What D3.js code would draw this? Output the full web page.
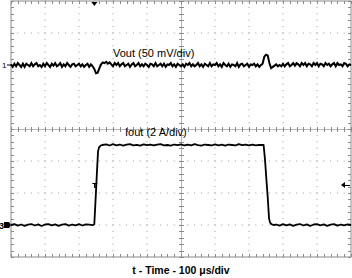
<!DOCTYPE html>
<html>
<head>
<meta charset="utf-8">
<script src="https://cdn.jsdelivr.net/npm/d3@7"></script>
<style>
  html, body { margin: 0; padding: 0; background: #fff; }
  svg { display: block; font-family: "Liberation Sans", Arial, sans-serif; }
</style>
</head>
<body>
<svg width="352" height="278"></svg>
<script>
'use strict';

// scope settings
const timePerDiv = 100;      // us
const voutPerDiv = 50;       // mV
const ioutPerDiv = 2;        // A
const voutRefDiv = 6;        // channel 1 marker, divisions from bottom
const ioutGndDiv = 1;        // channel 3 ground marker

// Vout deviation (mV), one sample every 5 us
const voutStep = 5;
const voutMv = [
	1,-3,2,-2,3,0,-3,2,-3,2,0,-2,3,-2,1,3,-2,0,-3,2,
	-2,3,0,-3,2,-1,3,-2,0,3,-3,1,-2,3,0,-3,1,2,-2,0,
	2,-2,1,-3,0,2,-3,1,-2,-6,-13,-12,-5,1,4,3,5,2,4,1,
	-2,3,0,3,-2,1,3,-2,0,2,-3,1,3,-2,0,3,-2,1,-2,2,
	0,-3,2,1,-2,3,-2,0,2,-2,2,-3,1,0,3,-2,1,-3,2,0,
	-2,1,-3,2,0,3,-2,1,-2,0,3,-2,1,-3,2,0,-2,3,-2,1,
	0,3,-2,1,-3,3,0,-2,2,-3,1,0,-2,3,-3,1,2,-2,0,2,
	-3,1,0,2,-2,1,-3,0,2,13,16,15,3,-5,-3,-1,1,-2,0,-2,
	2,-2,1,3,-2,0,3,-1,3,1,-2,3,0,3,-2,2,1,-2,3,0,
	3,-2,2,1,-2,3,0,2,-2,1,3,-2,3,0,1,-2,3,2,-2,1,
	0
];

// Iout (A) at the given times (us)
const ioutTime = [
	0,10,20,30,40,50,60,70,80,90,100,110,120,130,140,150,160,170,180,190,200,210,220,230,240,
	245,250,253,256,259,263,268,
	280,290,300,310,320,330,340,350,360,370,380,390,400,410,420,430,440,450,460,470,480,490,
	500,510,520,530,540,550,560,570,580,590,600,610,620,630,640,650,660,670,680,690,700,710,720,730,740,
	743,747,751,755,759,762,766,772,
	780,790,800,810,820,830,840,850,860,870,880,890,900,910,920,930,940,950,960,970,980,990,1000
];
const ioutAmps = [
	0,0.05,-0.04,0.03,-0.05,0.02,0.06,-0.03,0.04,-0.06,0.03,0.05,-0.02,0.04,-0.05,0.02,0.06,-0.04,0.03,-0.02,0.05,-0.03,0.04,0.02,-0.01,
	0.05,2.1,3.4,4.6,4.85,4.95,5.0,
	5.04,4.97,5.05,4.98,5.03,4.96,5.02,5.05,4.98,5.01,4.96,5.04,4.99,5.03,4.97,5.02,5.05,4.98,5.0,4.96,5.03,4.99,
	5.04,4.97,5.02,4.98,5.05,4.99,4.96,5.03,5.0,4.97,5.04,4.98,5.02,4.96,5.03,5.0,4.97,5.05,4.99,5.02,4.97,5.03,4.98,5.01,5.0,
	5.0,4.1,2.9,1.75,0.4,0.15,0.05,0,
	0.03,-0.04,0.05,-0.02,0.04,-0.05,0.02,0.06,-0.03,0.04,-0.06,0.03,0.05,-0.02,0.04,-0.05,0.02,0.05,-0.04,0.03,-0.02,0.04,0
];

const voutLabel = 'Vout (50 mV/div)';
const ioutLabel = 'Iout (2 A/div)';
const xTitle = 't - Time - 100 \u03bcs/div';

const svg = d3.select('svg');
const x = d3.scaleLinear().domain([0, 10 * timePerDiv]).range([11, 351]);
const y = d3.scaleLinear().domain([0, 8]).range([257, 1]);

const gridColor = '#9a9a9a';
const frameColor = '#8a8a8a';

// dotted grid
const $grid = svg.append('g');
const minorX = d3.range(0, 10.01, 0.2).map(d => d * timePerDiv);
const minorY = d3.range(0, 8.01, 0.2);
[1, 2, 3, 6, 7].forEach(dv => {
	$grid.selectAll(null).data(minorX).join('rect')
		.attr('x', d => x(d) - 0.5).attr('y', y(dv) - 0.5)
		.attr('width', 1).attr('height', 1).attr('fill', gridColor);
});
[1, 2, 3, 4, 6, 7, 8, 9].forEach(dv => {
	$grid.selectAll(null).data(minorY).join('rect')
		.attr('x', x(dv * timePerDiv) - 0.5).attr('y', d => y(d) - 0.5)
		.attr('width', 1).attr('height', 1).attr('fill', gridColor);
});

// frame and centre lines with ticks
const $frame = svg.append('g').attr('stroke', frameColor).attr('stroke-width', 1).attr('fill', 'none');
$frame.append('rect').attr('x', x(0)).attr('y', y(8)).attr('width', x(1000) - x(0)).attr('height', y(0) - y(8));
$frame.append('line').attr('x1', x(0)).attr('x2', x(1000)).attr('y1', y(4) + 0.5).attr('y2', y(4) + 0.5).attr('stroke', '#b5b5b5');
$frame.append('line').attr('x1', x(500) + 0.5).attr('x2', x(500) + 0.5).attr('y1', y(0)).attr('y2', y(8)).attr('stroke', '#b5b5b5');

minorX.forEach(t => {
	const px = Math.round(x(t)) + 0.5;
	$frame.append('line').attr('x1', px).attr('x2', px).attr('y1', y(0)).attr('y2', y(0) - 3);
	$frame.append('line').attr('x1', px).attr('x2', px).attr('y1', y(8)).attr('y2', y(8) + 3);
	$frame.append('line').attr('x1', px).attr('x2', px).attr('y1', y(4) - 2).attr('y2', y(4) + 3);
});
minorY.forEach(dv => {
	const py = Math.round(y(dv)) + 0.5;
	$frame.append('line').attr('x1', x(0)).attr('x2', x(0) + 3).attr('y1', py).attr('y2', py);
	$frame.append('line').attr('x1', x(1000)).attr('x2', x(1000) - 3).attr('y1', py).attr('y2', py);
	$frame.append('line').attr('x1', x(500) - 2).attr('x2', x(500) + 3).attr('y1', py).attr('y2', py);
});

// traces
const vLine = d3.line()
	.x((d, i) => x(i * voutStep))
	.y(d => y(voutRefDiv + d / voutPerDiv));
svg.append('path').datum(voutMv)
	.attr('d', vLine)
	.attr('fill', 'none').attr('stroke', '#000').attr('stroke-width', 2)
	.attr('stroke-linejoin', 'miter');

const iLine = d3.line()
	.x(d => x(d[0]))
	.y(d => y(ioutGndDiv + d[1] / ioutPerDiv));
svg.append('path').datum(d3.zip(ioutTime, ioutAmps))
	.attr('d', iLine)
	.attr('fill', 'none').attr('stroke', '#000').attr('stroke-width', 1.8)
	.attr('stroke-linejoin', 'round');

// labels
svg.append('text').attr('x', 113).attr('y', 57).attr('font-size', 11).text(voutLabel);
svg.append('text').attr('x', 125).attr('y', 136).attr('font-size', 11).text(ioutLabel);
svg.append('text').attr('x', x(500)).attr('y', 274).attr('font-size', 10.5)
	.attr('font-weight', 'bold').attr('text-anchor', 'middle').text(xTitle);

// scope markers
const cy1 = y(voutRefDiv);
svg.append('text').attr('x', 2).attr('y', cy1 + 3).attr('font-size', 8).text('1');
svg.append('line').attr('x1', 7).attr('x2', 11).attr('y1', cy1).attr('y2', cy1).attr('stroke', '#000');

const cy3 = y(ioutGndDiv);
svg.append('text').attr('x', -1).attr('y', cy3 + 3.5).attr('font-size', 9).attr('font-weight', 'bold').text('3');
svg.append('path').attr('d', `M4,${cy3 - 3}L9,${cy3 - 3}L11,${cy3}L9,${cy3 + 3}L4,${cy3 + 3}Z`).attr('fill', '#000');

const trigX = x(245);
svg.append('path').attr('d', `M${trigX - 3},2L${trigX + 3},2L${trigX},6Z`).attr('fill', '#000');
svg.append('line').attr('x1', trigX - 2).attr('x2', trigX + 3).attr('y1', 183.5).attr('y2', 183.5).attr('stroke', '#000');
svg.append('line').attr('x1', trigX + 0.5).attr('x2', trigX + 0.5).attr('y1', 183).attr('y2', 188).attr('stroke', '#000').attr('stroke-width', 1.5);

const trigY = y(ioutGndDiv + 2.5 / ioutPerDiv);
svg.append('path').attr('d', `M341,${trigY}L345,${trigY - 3}L345,${trigY + 3}Z`).attr('fill', '#000');
svg.append('line').attr('x1', 345).attr('x2', 350).attr('y1', trigY + 0.5).attr('y2', trigY + 0.5).attr('stroke', '#000');
</script>
</body>
</html>
